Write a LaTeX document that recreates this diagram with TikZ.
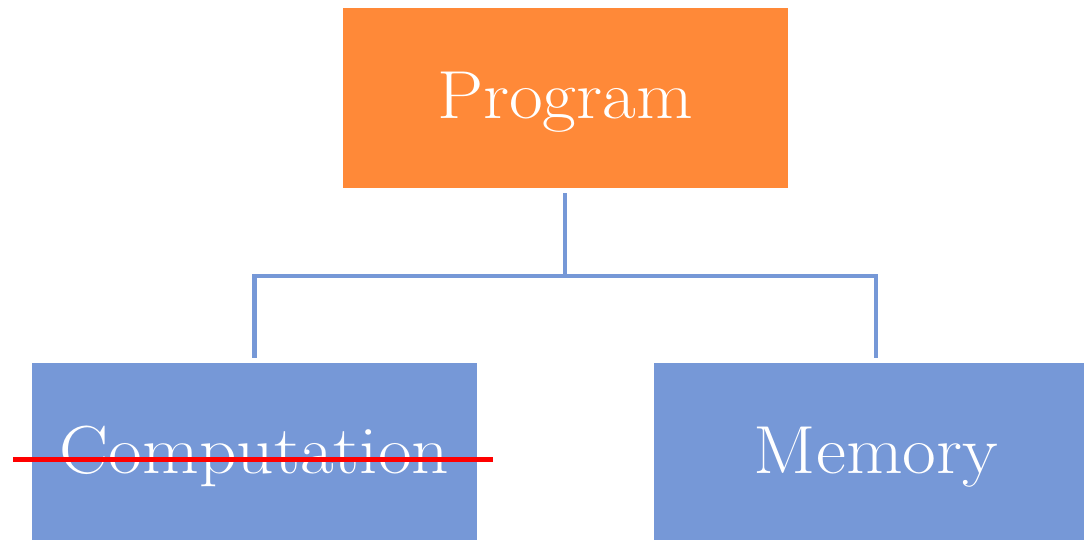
\documentclass[tikz,border=0pt]{standalone}
\newcommand{\widetext}[1]{\scalebox{1.08}[1]{#1}}
\begin{document}
\begin{tikzpicture}[x=1pt,y=-1pt,
  box/.style={rectangle, draw=none, inner sep=0pt,
    minimum width=445pt, minimum height=180pt,
    text=white, font=\fontsize{68}{80}\selectfont,
    text height=46pt, text depth=5pt},
  conn/.style={draw=linkblue, line width=4.5pt},
  strike/.style={draw=strikered, line width=5.5pt}]
  \definecolor{progorange}{RGB}{255,137,56}
  \definecolor{nodeblue}{RGB}{118,152,215}
  \definecolor{linkblue}{RGB}{118,152,215}
  \definecolor{strikered}{RGB}{255,0,0}
  \useasboundingbox (0,0) rectangle (1084,539);
  \clip (0,0) rectangle (1084,539);

  % boxes
  \node[box, fill=progorange] (prog) at (565,98) {\widetext{Program}};
  \node[box, fill=nodeblue] (comp) at (254.5,453) {\widetext{Computation}};
  \node[box, fill=nodeblue] (mem) at (876,453) {\widetext{Memory}};

  % tree connectors
  \coordinate (hub) at (565,276);
  \draw[conn, shorten <=5pt] (prog.south) -- (hub);
  \draw[conn, shorten >=5pt] (hub) -| (comp.north);
  \draw[conn, shorten >=5pt] (hub) -| (mem.north);

  % strike-through line
  \coordinate (s1) at ([xshift=-19pt]comp.west |- 0,459.5);
  \coordinate (s2) at ([xshift=16pt]comp.east |- 0,459.5);
  \draw[strike] (s1) -- (s2);
\end{tikzpicture}
\end{document}
